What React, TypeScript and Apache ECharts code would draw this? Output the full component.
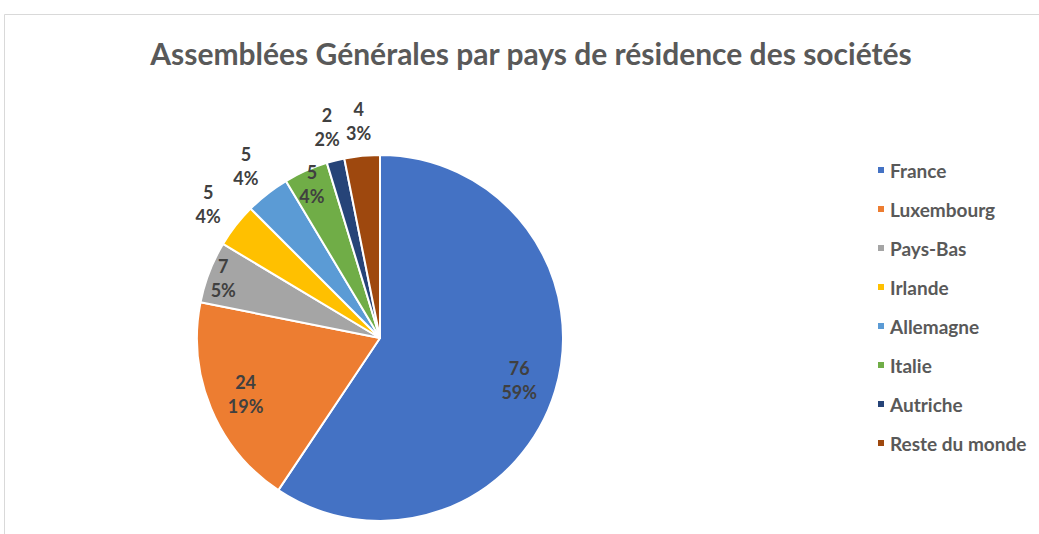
import React, { useEffect, useRef } from "react";
import * as echarts from "echarts";

const countries = ["France", "Luxembourg", "Pays-Bas", "Irlande", "Allemagne", "Italie", "Autriche", "Reste du monde"];
const counts = [76, 24, 7, 5, 5, 5, 2, 4];
const colors = ["#4472C4", "#ED7D31", "#A5A5A5", "#FFC000", "#5B9BD5", "#70AD47", "#264478", "#9E480E"];
// where Excel placed each data label: inner band for big slices, near rim for small inner ones, outside otherwise
const labelPlacement = ["innerLarge", "innerLarge", "innerSmall", "outside", "outside", "innerSmall", "outside", "outside"];
const titleText = "Assemblées Générales par pays de résidence des sociétés";

const FONT = "Lato, 'Open Sans', sans-serif";
const CX = 380;
const CY = 338;
const R = 183;

export default function App() {
  const ref = useRef<HTMLDivElement>(null);
  useEffect(() => {
    if (!ref.current) return;
    const chart = echarts.init(ref.current, null, { renderer: "svg" });
    const labelStyle = {
      fontFamily: FONT,
      fontWeight: "bold" as const,
      fontSize: 18,
      lineHeight: 24,
      color: "#404040",
      formatter: "{c}\n{d}%",
    };
    const labelSeries = (band: string, radius: [number, number]) => ({
      type: "pie",
      center: [CX, CY],
      radius,
      startAngle: 90,
      clockwise: true,
      silent: true,
      avoidLabelOverlap: false,
      percentPrecision: 0,
      emphasis: { disabled: true },
      tooltip: { show: false },
      legendHoverLink: false,
      itemStyle: { color: "rgba(0,0,0,0)", borderWidth: 0 },
      labelLine: { show: false },
      data: countries.map((name, i) => ({
        name,
        value: counts[i],
        label: { show: labelPlacement[i] === band, position: "inside", ...labelStyle },
      })),
    });
    chart.setOption({
      animation: false,
      backgroundColor: "#ffffff",
      color: colors,
      graphic: [
        {
          type: "rect",
          shape: { x: 4.5, y: 14.5, width: 1100, height: 600 },
          style: { fill: "none", stroke: "#d9d9d9", lineWidth: 1 },
          silent: true,
        },
        {
          type: "text",
          x: 531,
          y: 53,
          style: {
            text: titleText,
            textAlign: "center",
            textVerticalAlign: "middle",
            fontFamily: FONT,
            fontWeight: "bold",
            fontSize: 30,
            fill: "#595959",
          },
        },
      ],
      legend: {
        orient: "vertical",
        left: 871,
        top: 154,
        icon: "rect",
        itemWidth: 8,
        itemHeight: 8,
        itemGap: 17,
        data: countries,
        textStyle: {
          fontFamily: FONT,
          fontWeight: "bold",
          fontSize: 19,
          lineHeight: 22,
          color: "#595959",
        },
      },
      series: [
        {
          type: "pie",
          center: [CX, CY],
          radius: [0, R],
          startAngle: 90,
          clockwise: true,
          percentPrecision: 0,
          itemStyle: { borderColor: "#ffffff", borderWidth: 2 },
          label: { show: false },
          labelLine: { show: false },
          emphasis: { scale: false },
          data: countries.map((name, i) => ({ name, value: counts[i] })),
        },
        labelSeries("innerLarge", [102, R]),
        labelSeries("innerSmall", [147, R]),
        labelSeries("outside", [R, 247]),
      ],
    });
    return () => chart.dispose();
  }, []);
  return (
    <div
      ref={ref}
      style={{ position: "fixed", left: 0, top: 0, width: 1039, height: 534 }}
    />
  );
}
